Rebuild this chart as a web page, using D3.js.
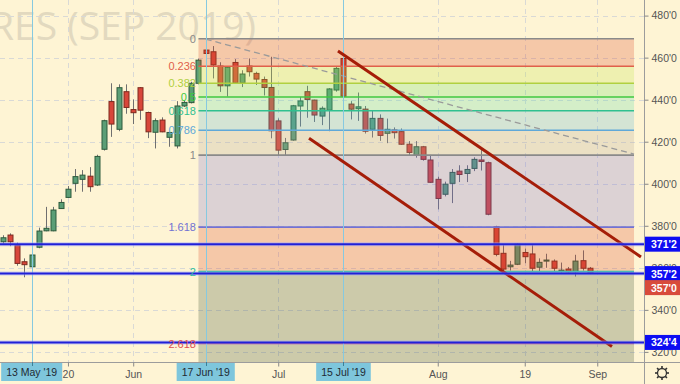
<!DOCTYPE html>
<html>
<head>
<meta charset="utf-8">
<script src="https://cdnjs.cloudflare.com/ajax/libs/d3/7.8.5/d3.min.js"></script>
<style>
  body { margin: 0; background: #fef4d4; }
  svg { display: block; font-family: "Liberation Sans", "DejaVu Sans", sans-serif; }
</style>
</head>
<body>
<div id="chart"></div>
<script>
// daily bars, Sep 2019 corn futures (cents, eighths)
const days = [
  "2019-05-07","2019-05-08","2019-05-09","2019-05-10","2019-05-13","2019-05-14","2019-05-15","2019-05-16","2019-05-17",
  "2019-05-20","2019-05-21","2019-05-22","2019-05-23","2019-05-24","2019-05-28","2019-05-29","2019-05-30","2019-05-31",
  "2019-06-03","2019-06-04","2019-06-05","2019-06-06","2019-06-07","2019-06-10","2019-06-11","2019-06-12","2019-06-13","2019-06-14",
  "2019-06-17","2019-06-18","2019-06-19","2019-06-20","2019-06-21","2019-06-24","2019-06-25","2019-06-26","2019-06-27","2019-06-28",
  "2019-07-01","2019-07-02","2019-07-03","2019-07-05","2019-07-08","2019-07-09","2019-07-10","2019-07-11","2019-07-12",
  "2019-07-15","2019-07-16","2019-07-17","2019-07-18","2019-07-19","2019-07-22","2019-07-23","2019-07-24","2019-07-25","2019-07-26",
  "2019-07-29","2019-07-30","2019-07-31","2019-08-01","2019-08-02","2019-08-05","2019-08-06","2019-08-07","2019-08-08","2019-08-09",
  "2019-08-12","2019-08-13","2019-08-14","2019-08-15","2019-08-16","2019-08-19","2019-08-20","2019-08-21","2019-08-22","2019-08-23",
  "2019-08-26","2019-08-27","2019-08-28","2019-08-29","2019-08-30"
];
const open = [
  372.4,375.6,370.8,362.9,360.5,369.8,377.6,377.6,388.2,
  393.5,400.2,402.1,403.6,399.4,416.4,439.1,425.9,443.8,
  435.3,445.7,433.9,424.5,430.3,422.1,418.0,437.0,438.6,447.8,
  463.6,462.8,456.0,446.6,457.7,448.0,456.0,452.5,449.6,445.8,
  429.9,416.3,420.8,437.0,443.8,439.8,432.2,435.0,444.6,
  459.6,437.9,435.7,435.5,425.9,431.1,424.0,425.6,424.8,418.8,
  413.6,417.6,411.3,402.1,395.0,400.2,406.0,404.9,407.3,411.3,
  410.0,379.5,366.9,360.5,361.7,367.3,366.6,360.3,363.2,363.2,
  358.3,359.4,358.1,363.4,359.8
];
const high = [
  375.5,376.4,372.0,364.5,367.2,379.1,389.0,389.0,392.6,
  398.9,407.0,406.5,407.9,413.8,430.5,447.8,447.3,447.3,
  440.1,446.0,434.3,431.1,431.6,424.7,439.3,439.5,448.5,459.5,
  469.2,465.5,457.8,456.0,459.3,454.0,459.6,453.3,451.0,460.4,
  431.1,421.8,437.5,441.3,446.6,440.0,436.8,445.5,456.0,
  460.8,439.3,443.4,437.0,435.0,433.0,431.0,426.8,426.3,420.3,
  420.3,418.0,413.7,403.4,401.0,407.0,408.8,408.8,412.6,416.5,
  410.5,380.0,371.0,363.3,371.6,369.2,371.0,364.5,366.7,364.0,
  362.5,360.4,366.2,368.3,360.4
];
const low = [
  371.5,370.3,361.0,355.5,352.9,369.3,377.4,377.4,388.0,
  393.3,396.2,396.2,396.2,398.9,415.8,422.3,425.0,433.3,
  428.4,430.4,421.7,416.8,424.5,417.6,416.8,436.5,438.2,447.3,
  458.0,450.1,443.7,441.5,447.5,446.0,451.0,447.0,442.0,421.6,
  413.6,413.5,420.5,427.2,431.4,429.4,427.9,425.0,443.8,
  440.1,430.6,429.9,423.9,422.0,420.4,419.3,421.5,418.5,413.7,
  412.4,411.0,400.5,387.8,394.0,390.8,400.8,400.8,406.0,406.3,
  385.0,365.5,358.3,358.7,361.3,362.2,358.0,358.0,360.0,358.0,
  357.7,357.7,355.9,358.7,357.0
];
const close = [
  374.3,372.4,362.1,361.5,366.1,377.5,378.8,387.5,391.1,
  397.4,403.4,404.1,398.6,413.0,430.0,428.4,445.7,436.3,
  433.8,435.0,424.7,430.0,424.7,424.4,437.0,438.7,447.8,458.8,
  462.0,456.5,446.6,455.4,448.0,452.2,453.3,449.8,445.8,425.2,
  416.0,419.5,437.1,439.4,440.1,432.7,435.9,445.1,454.9,
  441.6,435.5,436.6,425.0,431.1,423.0,425.9,424.3,418.8,414.9,
  417.6,411.6,400.7,393.0,399.8,405.4,404.4,406.8,411.6,410.6,
  385.5,366.4,359.4,361.3,371.2,365.3,359.8,362.6,363.7,359.8,
  358.9,358.1,363.2,359.8,357.6
];

const priceTicks = [320, 340, 360, 380, 400, 420, 440, 460, 480];
const timeTickDays = ["2019-05-20", "2019-06-03", "2019-07-01", "2019-08-01", "2019-08-19", "2019-09-03"];
const timeTickLabels = ["20", "Jun", "Jul", "Aug", "19", "Sep"];

// vertical date markers
const markerDays = ["2019-05-13", "2019-06-17", "2019-07-15"];
const markerLabels = ["13 May '19", "17 Jun '19", "15 Jul '19"];

// fibonacci extension drawing
const fibLevels = [0, 0.236, 0.382, 0.5, 0.618, 0.786, 1, 1.618, 2, 2.618];
const fibLabels = ["0", "0.236", "0.382", "0.5", "0.618", "0.786", "1", "1.618", "2", "2.618"];
const fibHigh = 469.0, fibLow = 413.6;
const fibStartDay = "2019-06-14", fibEndBar = 87.07;

// trend lines, in bar index / price
const trendDashed = [[28, 468.8], [87.07, 414.1]];
const channelUpper = [[46.24, 463.2], [88.03, 365.2]];
const channelLower = [[42.25, 421.7], [84.03, 322.6]];

// horizontal levels and axis labels
const levelPrices = [371.25, 357.25, 324.5];
const levelLabels = ["371'2", "357'2", "324'4"];
const lastLabel = "357'0";

const W = 680, H = 384, plotR = 644, plotB = 362;
const bg = "#fef4d4";

const idx = d => { const k = days.indexOf(d); return k >= 0 ? k : days.length; };

const x = d3.scaleLinear().domain([0, 81]).range([2.7, 590]);
const y = d3.scaleLinear().domain([320, 480]).range([351.9, 15.6]);

const svg = d3.select("#chart").append("svg").attr("width", W).attr("height", H);
svg.append("rect").attr("width", W).attr("height", H).attr("fill", bg);

svg.append("defs").append("clipPath").attr("id", "plot")
  .append("rect").attr("width", plotR).attr("height", plotB);

const plot = svg.append("g").attr("clip-path", "url(#plot)");

// watermark
plot.append("text")
  .attr("x", 256).attr("y", 40)
  .attr("text-anchor", "end")
  .style("font-family", "'Open Sans', sans-serif")
  .style("font-size", "39px")
  .attr("fill", "#e2d9bf")
  .text("CORN FUTURES (SEP 2019)");

// grid
const gridC = "#d9d9d6";
plot.selectAll(".hg").data(priceTicks).enter().append("line")
  .attr("x1", 0).attr("x2", plotR)
  .attr("y1", d => Math.round(y(d)) + 0.5).attr("y2", d => Math.round(y(d)) + 0.5)
  .attr("stroke", gridC).attr("stroke-dasharray", "5,4");
plot.selectAll(".vg").data(timeTickDays).enter().append("line")
  .attr("x1", d => Math.round(x(idx(d))) + 0.5).attr("x2", d => Math.round(x(idx(d))) + 0.5)
  .attr("y1", 0).attr("y2", plotB)
  .attr("stroke", gridC).attr("stroke-dasharray", "5,4");

// candles
const bars = days.map((d, i) => ({ i, o: open[i], h: high[i], l: low[i], c: close[i] }));
const cg = plot.append("g");
cg.selectAll(".wick").data(bars).enter().append("line")
  .attr("x1", d => Math.round(x(d.i)) + 0.5).attr("x2", d => Math.round(x(d.i)) + 0.5)
  .attr("y1", d => y(d.h)).attr("y2", d => y(d.l))
  .attr("stroke", "#6f6f6f");
cg.selectAll(".body").data(bars).enter().append("rect")
  .attr("x", d => Math.round(x(d.i)) - 2)
  .attr("width", 5)
  .attr("y", d => y(Math.max(d.o, d.c)))
  .attr("height", d => Math.max(1, Math.abs(y(d.o) - y(d.c))))
  .attr("fill", d => d.c >= d.o ? "#5b9e76" : "#d8463a")
  .attr("stroke", d => d.c >= d.o ? "#2d5a3c" : "#7d2a1e")
  .attr("stroke-width", 1);

// fib bands, semi transparent over the bars
const fibPrice = L => fibHigh - L * (fibHigh - fibLow);
const bandFill = ["#da4424", "#bee444", "#66e064", "#56dca4", "#56b4d4", "#b2a494", "#766cd4", "#da4424", "#364c2a"];
const lineCol = ["#8a8a8a", "#e0604a", "#b0d040", "#40c840", "#30c090", "#60a8d8", "#8a8a8a", "#7272d2", "#30c0a0", "#e05050"];
const fx0 = x(idx(fibStartDay)), fx1 = x(fibEndBar);
const fg = plot.append("g");
fibLevels.forEach((L, k) => {
  const y0 = y(fibPrice(L));
  const y1 = k < fibLevels.length - 1 ? y(fibPrice(fibLevels[k + 1])) : plotB;
  fg.append("rect").attr("x", fx0).attr("width", fx1 - fx0)
    .attr("y", y0).attr("height", y1 - y0)
    .attr("fill", bandFill[Math.min(k, bandFill.length - 1)]).attr("fill-opacity", 0.25);
});
fibLevels.forEach((L, k) => {
  fg.append("line").attr("x1", fx0).attr("x2", fx1)
    .attr("y1", y(fibPrice(L))).attr("y2", y(fibPrice(L)))
    .attr("stroke", lineCol[k]).attr("stroke-width", 1.6);
});

// dashed trend line
const ln = d3.line().x(d => x(d[0])).y(d => y(d[1]));
plot.append("path").attr("d", ln(trendDashed))
  .attr("fill", "none").attr("stroke", "#9a9a9a").attr("stroke-width", 1.3)
  .attr("stroke-dasharray", "6,4");

// date markers
plot.selectAll(".mk").data(markerDays).enter().append("line")
  .attr("x1", d => Math.round(x(idx(d))) + 0.5).attr("x2", d => Math.round(x(idx(d))) + 0.5)
  .attr("y1", 0).attr("y2", plotB)
  .attr("stroke", "#86c9e0").attr("stroke-width", 1);

// channel
[channelUpper, channelLower].forEach(c => {
  plot.append("path").attr("d", ln(c))
    .attr("fill", "none").attr("stroke", "#a51d08").attr("stroke-width", 3);
});

// horizontal levels
levelPrices.forEach(p => {
  plot.append("line").attr("x1", 0).attr("x2", plotR).attr("y1", y(p)).attr("y2", y(p))
    .attr("stroke", "#9aa0ff").attr("stroke-width", 4).attr("stroke-opacity", 0.5);
  plot.append("line").attr("x1", 0).attr("x2", plotR).attr("y1", y(p)).attr("y2", y(p))
    .attr("stroke", "#2020d8").attr("stroke-width", 2);
});

// fib labels
fibLevels.forEach((L, k) => {
  plot.append("text").attr("x", fx0 - 2.5).attr("y", y(fibPrice(L)) + 4)
    .attr("text-anchor", "end").attr("fill", lineCol[k])
    .style("font-size", "11px").text(fibLabels[k]);
});

// axes
svg.append("line").attr("x1", plotR + 0.5).attr("x2", plotR + 0.5).attr("y1", 0).attr("y2", H).attr("stroke", "#9c9c9c");
svg.append("line").attr("x1", 0).attr("x2", W).attr("y1", plotB + 0.5).attr("y2", plotB + 0.5).attr("stroke", "#9c9c9c");

const ya = svg.append("g").attr("transform", `translate(${plotR + 0.5},0)`)
  .call(d3.axisRight(y).tickValues(priceTicks).tickSize(4).tickFormat(d => d + "'0"));
ya.select(".domain").remove();
ya.selectAll("line").attr("stroke", "#888");
ya.selectAll("text").attr("fill", "#555").attr("x", 7).style("font-size", "10.5px").style("font-family", "'Liberation Sans', sans-serif");

const xa = svg.append("g").attr("transform", `translate(0,${plotB + 0.5})`)
  .call(d3.axisBottom(x).tickValues(timeTickDays.map(idx)).tickSize(4).tickFormat((d, i) => timeTickLabels[i]));
xa.select(".domain").remove();
xa.selectAll("line").attr("stroke", "#888");
xa.selectAll("text").attr("fill", "#555").attr("y", 8).style("font-size", "10.5px").style("font-family", "'Liberation Sans', sans-serif");

// marker labels on time axis
markerDays.forEach((d, k) => {
  const cx = x(idx(d));
  const g = svg.append("g");
  const t = g.append("text").attr("x", cx).attr("y", 376).attr("text-anchor", "middle")
    .attr("fill", "#1e2a33").style("font-size", "10.5px").text(markerLabels[k]);
  const w = t.node().getComputedTextLength() + 10;
  g.insert("rect", "text").attr("x", cx - w / 2).attr("y", 363).attr("width", w).attr("height", 18).attr("fill", "#7ec6dc");
  g.insert("line", "text").attr("x1", Math.round(cx) + 0.5).attr("x2", Math.round(cx) + 0.5).attr("y1", 362).attr("y2", 366).attr("stroke", "#3c7f96");
});

// price labels on right axis
function priceBox(p, yc, label, fill) {
  svg.append("rect").attr("x", plotR + 1).attr("y", yc - 7.5).attr("width", W - plotR - 1).attr("height", 15).attr("fill", fill);
  svg.append("text").attr("x", plotR + 7).attr("y", yc + 4).attr("fill", "#fff")
    .style("font-size", "10.5px").style("font-weight", "bold").text(label);
}
levelPrices.forEach((p, k) => priceBox(p, y(p), levelLabels[k], "#0d0df2"));
priceBox(close[close.length - 1], y(levelPrices[1]) + 14, lastLabel, "#d84b3b");

// gear icon
const gear = svg.append("g").attr("transform", "translate(662,373)");
gear.append("circle").attr("r", 4.5).attr("fill", "none").attr("stroke", "#333").attr("stroke-width", 1.3);
d3.range(8).forEach(k => {
  const a = k * Math.PI / 4;
  gear.append("line").attr("x1", Math.cos(a) * 4.5).attr("y1", Math.sin(a) * 4.5)
    .attr("x2", Math.cos(a) * 7).attr("y2", Math.sin(a) * 7).attr("stroke", "#333").attr("stroke-width", 1.6);
});
</script>
</body>
</html>
